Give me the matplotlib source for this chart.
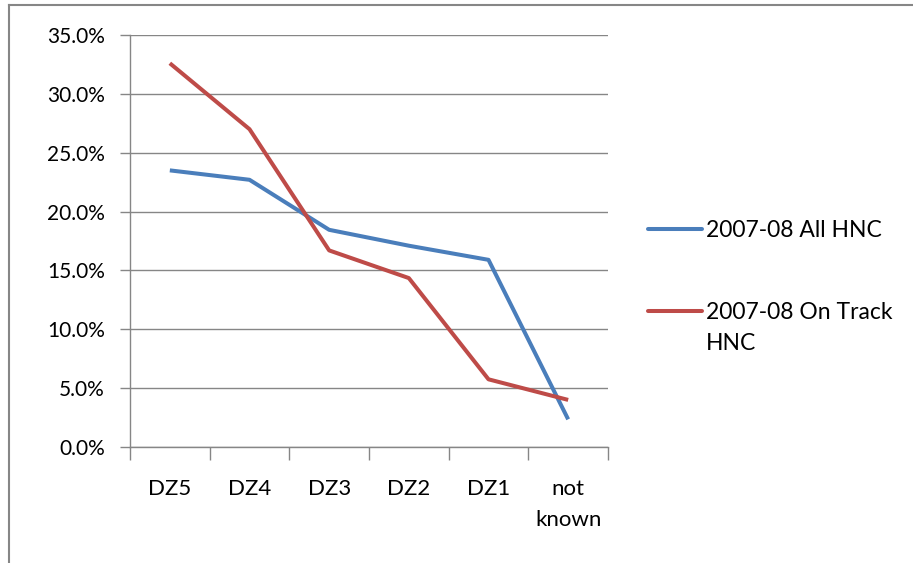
import matplotlib
matplotlib.use("Agg")
import matplotlib.pyplot as plt
from matplotlib.lines import Line2D
from matplotlib.ticker import FixedLocator, PercentFormatter

plt.rcParams['font.family'] = ['Lato', 'DejaVu Sans']

categories = ["DZ5", "DZ4", "DZ3", "DZ2", "DZ1", "not\nknown"]
all_hnc = [23.5, 22.7, 18.45, 17.1, 15.9, 2.35]
on_track_hnc = [32.6, 27.0, 16.7, 14.35, 5.75, 4.0]
series_names = ["2007-08 All HNC", "2007-08 On Track\nHNC"]
colors = ["#4A7EBB", "#BE4B48"]

fig = plt.figure(figsize=(9.13, 5.63), dpi=100)
ax = fig.add_axes([130/913, 1-447/563, 478/913, 412/563])

x = list(range(len(categories)))
ax.plot(x, all_hnc, color=colors[0], lw=2.9, solid_capstyle='butt', zorder=3)
ax.plot(x, on_track_hnc, color=colors[1], lw=2.9, solid_capstyle='butt', zorder=3)

ax.set_xlim(-0.5, len(categories) - 0.5)
ax.set_ylim(0, 35)
ax.set_yticks([0, 5, 10, 15, 20, 25, 30, 35])
ax.yaxis.set_major_formatter(PercentFormatter(decimals=1))
ax.grid(axis='y', color='#868686', lw=1.0)
ax.set_axisbelow(True)

ax.set_xticks(x)
ax.set_xticklabels(categories, linespacing=1.7)
ax.xaxis.set_minor_locator(FixedLocator([i - 0.5 for i in range(len(categories) + 1)]))
ax.tick_params(axis='x', which='major', length=0, pad=23, labelsize=16, colors='#000000')
ax.tick_params(axis='x', which='minor', length=9, width=1.0, color='#868686')
ax.tick_params(axis='y', length=7, width=1.0, color='#868686', pad=11, labelsize=15)
for lab in ax.get_xticklabels():
    lab.set_verticalalignment('top')

for side in ['top', 'right']:
    ax.spines[side].set_visible(False)
for side in ['left', 'bottom']:
    ax.spines[side].set_color('#868686')
    ax.spines[side].set_linewidth(1.0)

# legend drawn beside the plot; text baseline sits on the last line
W, H = 913, 563
line_step = 31
legend_rows = [(229, series_names[0]), (311, series_names[1])]
for (yy, name), c in zip(legend_rows, colors):
    fig.add_artist(Line2D([648/W, 702/W], [1-yy/H, 1-yy/H], color=c, lw=2.9,
                          solid_capstyle='round', transform=fig.transFigure))
    extra = name.count("\n") * line_step
    fig.text(706/W, 1-(yy+8+extra)/H, name, fontsize=16.5, va='baseline',
             ha='left', linespacing=1.6)

# outer chart frame (left and top edges)
fig.add_artist(Line2D([8.5/W, 8.5/W], [0, 1-5/H], color='#868686', lw=1.5,
                      transform=fig.transFigure))
fig.add_artist(Line2D([8.5/W, 1], [1-5/H, 1-5/H], color='#868686', lw=1.5,
                      transform=fig.transFigure))

fig.savefig("out.png", dpi=100)
